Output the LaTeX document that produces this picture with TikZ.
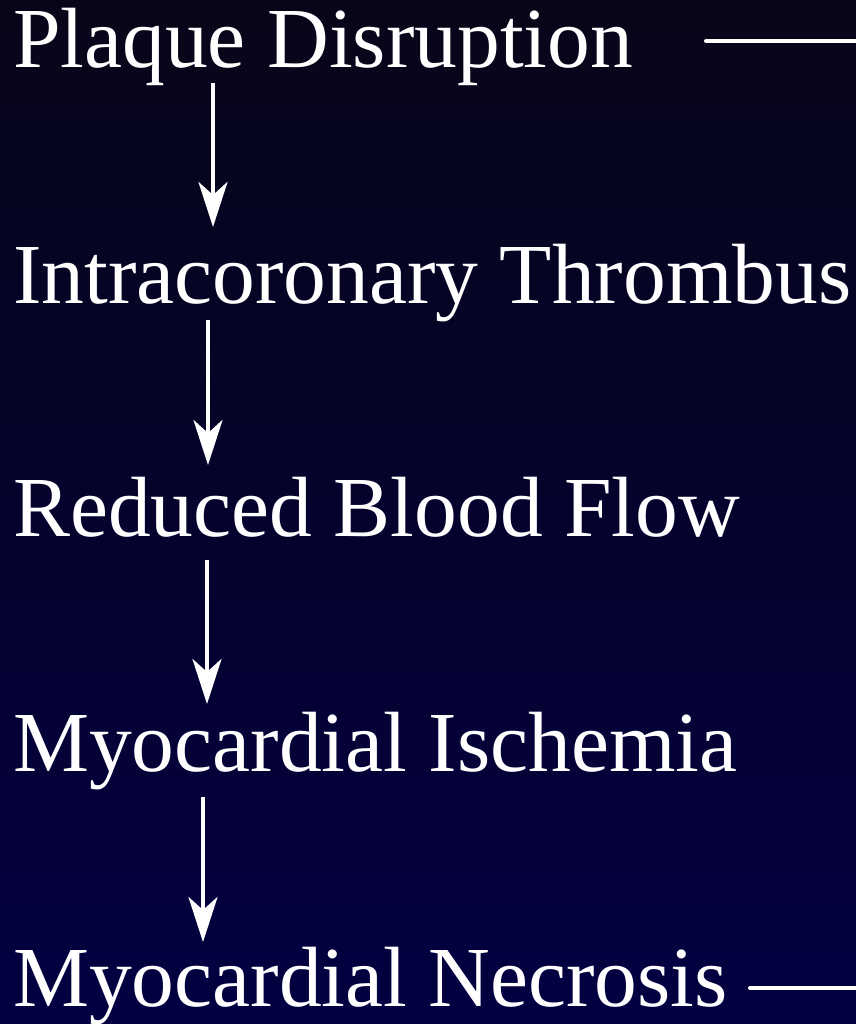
\documentclass[tikz,border=0pt]{standalone}
\usepackage{fontspec}
\setmainfont{Liberation Serif}
\usetikzlibrary{arrows.meta}
\definecolor{bgtop}{RGB}{7,6,24}
\definecolor{bgbot}{RGB}{3,0,66}
\tikzset{
  lbl/.style={anchor=base west, inner sep=0pt, text=white, font=\fontsize{85.5}{85.5}\selectfont},
  flowarrow/.style={draw=white, line width=4.5pt, -{Stealth[length=45pt,width=29pt,inset=13pt]}},
  sideline/.style={draw=white, line width=4pt, line cap=round}
}
\begin{document}
\begin{tikzpicture}[x=1pt,y=-1pt]
\useasboundingbox (0,0) rectangle (855,1024);
\shade[top color=bgtop, bottom color=bgbot] (-10,-10) rectangle (870,1034);
\node[lbl] (plaque) at (13,68) {Plaque Disruption};
\node[lbl] (thromb) at (13,303) {Intracoronary Thrombus};
\node[lbl] (flow) at (13,536) {Reduced Blood Flow};
\node[lbl] (isch) at (13,771) {Myocardial Ischemia};
\node[lbl] (necro) at (13,1006) {Myocardial Necrosis};
\coordinate (a1s) at (213,83);  \coordinate (a1e) at (213,227);
\coordinate (a2s) at (208,320); \coordinate (a2e) at (208,465);
\coordinate (a3s) at (207,560); \coordinate (a3e) at (207,704);
\coordinate (a4s) at (203,797); \coordinate (a4e) at (203,942);
\draw[flowarrow] (a1s) -- (a1e);
\draw[flowarrow] (a2s) -- (a2e);
\draw[flowarrow] (a3s) -- (a3e);
\draw[flowarrow] (a4s) -- (a4e);
\coordinate (t1) at (706,41);  \coordinate (t2) at (870,41);
\coordinate (b1) at (750,988); \coordinate (b2) at (870,988);
\draw[sideline] (t1) -- (t2);
\draw[sideline] (b1) -- (b2);
\end{tikzpicture}
\end{document}
